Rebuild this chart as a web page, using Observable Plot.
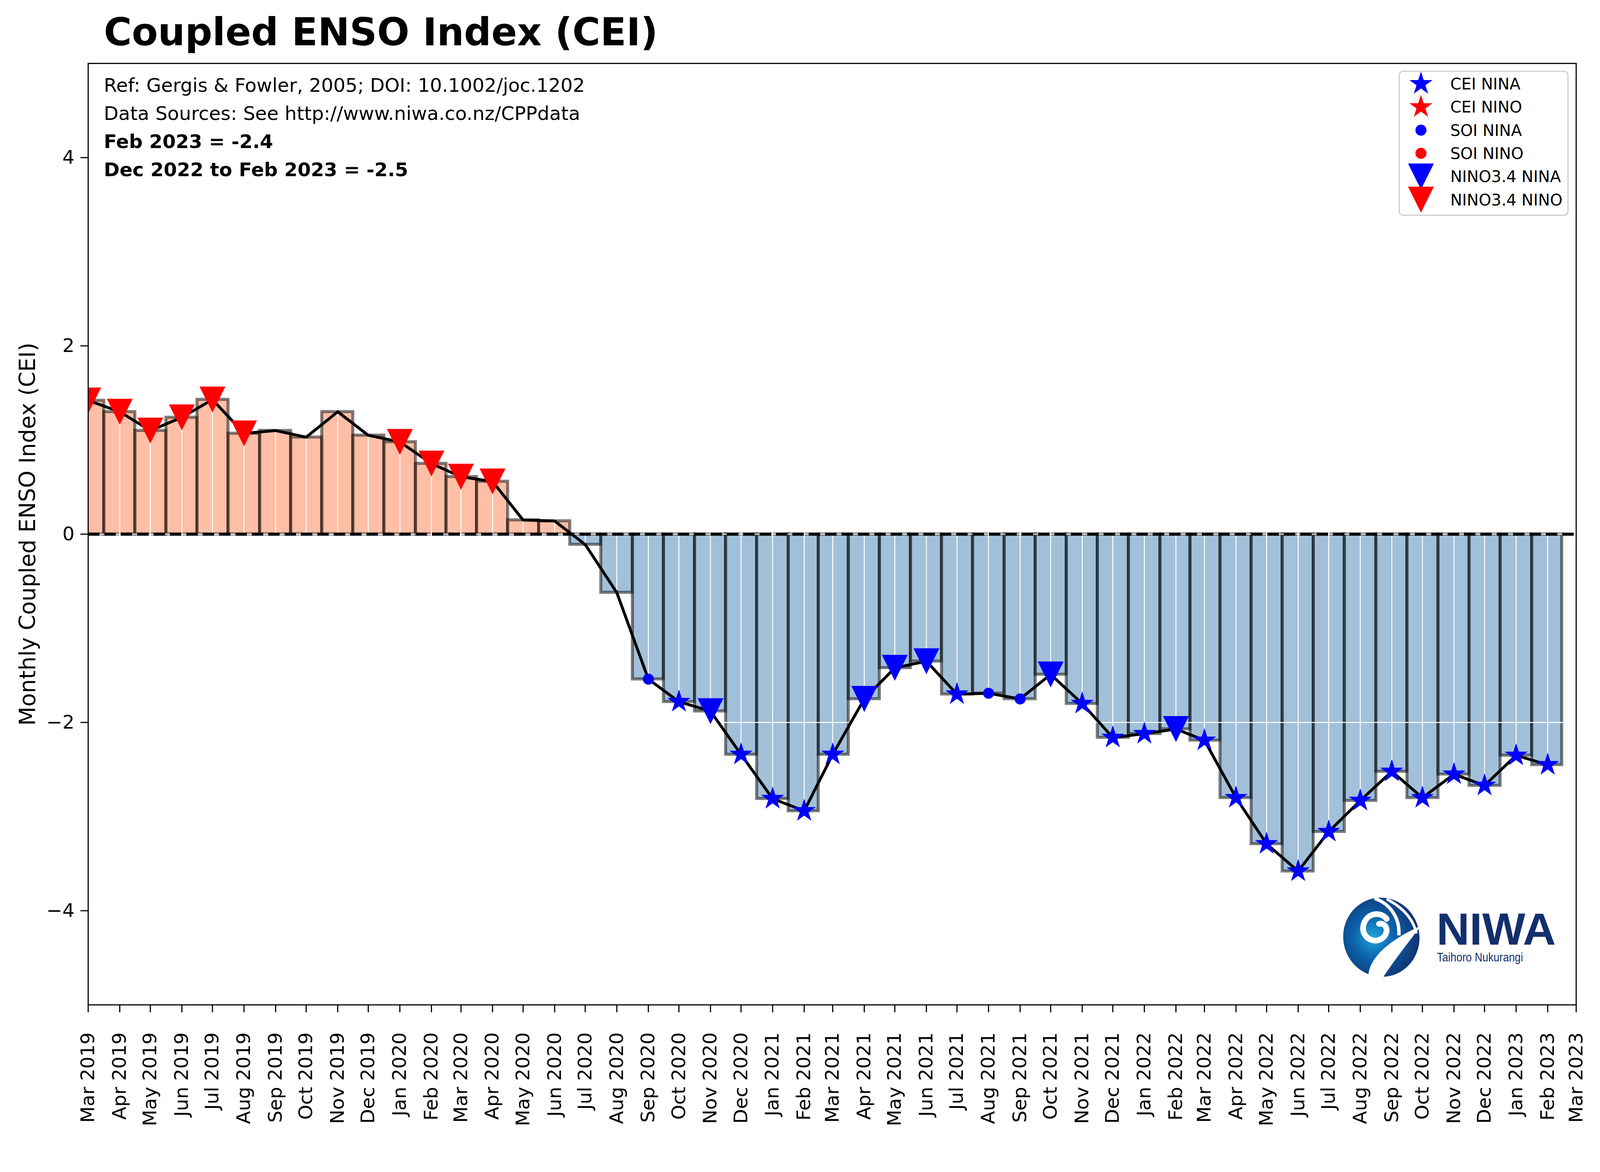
<!DOCTYPE html>
<html>
<head>
<meta charset="utf-8">
<script src="https://cdn.jsdelivr.net/npm/d3@7"></script>
<script src="https://cdn.jsdelivr.net/npm/@observablehq/plot@0.6"></script>
<style>html,body{margin:0;padding:0;background:#fff}#chart svg{display:block}</style>
</head>
<body>
<div id="chart"></div>
<script>
// ---------------- data ----------------
const months = [
  "Mar 2019","Apr 2019","May 2019","Jun 2019","Jul 2019","Aug 2019","Sep 2019","Oct 2019","Nov 2019","Dec 2019",
  "Jan 2020","Feb 2020","Mar 2020","Apr 2020","May 2020","Jun 2020","Jul 2020","Aug 2020","Sep 2020","Oct 2020","Nov 2020","Dec 2020",
  "Jan 2021","Feb 2021","Mar 2021","Apr 2021","May 2021","Jun 2021","Jul 2021","Aug 2021","Sep 2021","Oct 2021","Nov 2021","Dec 2021",
  "Jan 2022","Feb 2022","Mar 2022","Apr 2022","May 2022","Jun 2022","Jul 2022","Aug 2022","Sep 2022","Oct 2022","Nov 2022","Dec 2022",
  "Jan 2023","Feb 2023"
];
const cei = [
  1.42, 1.30, 1.10, 1.24, 1.43, 1.07, 1.10, 1.03, 1.30, 1.05,
  0.98, 0.75, 0.61, 0.56, 0.15, 0.14, -0.11, -0.62, -1.54, -1.78, -1.88, -2.34,
  -2.81, -2.94, -2.34, -1.75, -1.42, -1.35, -1.70, -1.69, -1.75, -1.49, -1.80, -2.16,
  -2.12, -2.07, -2.19, -2.80, -3.29, -3.58, -3.16, -2.83, -2.52, -2.80, -2.55, -2.67,
  -2.35, -2.45
];
// which index flagged the month: "nino34" (triangle), "cei" (star), "soi" (circle), "" none
const markerType = [
  "nino34","nino34","nino34","nino34","nino34","nino34","","","","",
  "nino34","nino34","nino34","nino34","","","","","soi","cei","nino34","cei",
  "cei","cei","cei","nino34","nino34","nino34","cei","soi","soi","nino34","cei","cei",
  "cei","nino34","cei","cei","cei","cei","cei","cei","cei","cei","cei","cei",
  "cei","cei"
];
const xTickLabels = [
  "Mar 2019","Apr 2019","May 2019","Jun 2019","Jul 2019","Aug 2019","Sep 2019","Oct 2019","Nov 2019","Dec 2019",
  "Jan 2020","Feb 2020","Mar 2020","Apr 2020","May 2020","Jun 2020","Jul 2020","Aug 2020","Sep 2020","Oct 2020","Nov 2020","Dec 2020",
  "Jan 2021","Feb 2021","Mar 2021","Apr 2021","May 2021","Jun 2021","Jul 2021","Aug 2021","Sep 2021","Oct 2021","Nov 2021","Dec 2021",
  "Jan 2022","Feb 2022","Mar 2022","Apr 2022","May 2022","Jun 2022","Jul 2022","Aug 2022","Sep 2022","Oct 2022","Nov 2022","Dec 2022",
  "Jan 2023","Feb 2023","Mar 2023"
];
const yTicks = [-4, -2, 0, 2, 4];
const yDomain = [-5, 5];
const titleText = "Coupled ENSO Index (CEI)";
const yLabelText = "Monthly Coupled ENSO Index (CEI)";
const noteLines = [
  "Ref: Gergis & Fowler, 2005; DOI: 10.1002/joc.1202",
  "Data Sources: See http://www.niwa.co.nz/CPPdata",
  "Feb 2023 = -2.4",
  "Dec 2022 to Feb 2023 = -2.5"
];
const legendLabels = ["CEI NINA", "CEI NINO", "SOI NINA", "SOI NINO", "NINO3.4 NINA", "NINO3.4 NINO"];
const legendColors = ["blue", "red", "blue", "red", "blue", "red"];
const legendKinds = ["cei", "cei", "soi", "soi", "nino34", "nino34"];

// ---------------- symbols ----------------
const starSymbol = {
  draw(ctx, size) {
    const R = Math.sqrt(size / Math.PI), r = R * 0.381966;
    for (let k = 0; k < 10; k++) {
      const a = -Math.PI / 2 + k * Math.PI / 5, rr = k % 2 ? r : R;
      const x = rr * Math.cos(a), y = rr * Math.sin(a);
      k ? ctx.lineTo(x, y) : ctx.moveTo(x, y);
    }
    ctx.closePath();
  }
};
const triDownSymbol = {
  draw(ctx, size) {
    const h = Math.sqrt(size / Math.PI);
    ctx.moveTo(-h, -h); ctx.lineTo(h, -h); ctx.lineTo(0, h); ctx.closePath();
  }
};
const kindStyle = {
  cei: {symbol: starSymbol, r: 32},
  soi: {symbol: "circle", r: 14.5},
  nino34: {symbol: triDownSymbol, r: 34}
};

// ---------------- derived rows ----------------
const parse = d3.utcParse("%b %Y");
const tickDates = xTickLabels.map(parse);
const rows = months.map((m, i) => {
  const t = +tickDates[i];
  const prev = i > 0 ? +tickDates[i - 1] : t - (+tickDates[1] - t);
  const next = +tickDates[i + 1];
  return {date: parse(m), value: cei[i], kind: markerType[i],
          x1: new Date((prev + t) / 2), x2: new Date((t + next) / 2)};
});
const colorOf = d => d.value < 0 ? "blue" : "red";

const dotMarks = Object.entries(kindStyle).map(([kind, st]) =>
  Plot.dot(rows.filter(d => d.kind === kind), {
    x: "date", y: "value", symbol: st.symbol, r: st.r,
    fill: colorOf, stroke: "none", clip: true
  })
);

const FL = 231, FT = 166; // frame left / top used for text offsets
const chart = Plot.plot({
  width: 4200,
  height: 3000,
  marginLeft: 231,
  marginRight: 63,
  marginTop: 166,
  marginBottom: 363,
  style: {fontFamily: "DejaVu Sans", background: "white", color: "black"},
  x: {type: "utc", domain: [tickDates[0], tickDates[tickDates.length - 1]], label: null},
  y: {domain: yDomain, label: null},
  marks: [
    Plot.rect(rows, {
      x1: "x1", x2: "x2", y1: () => 0, y2: "value",
      fill: d => d.value >= 0 ? "coral" : "steelblue", fillOpacity: 0.5,
      stroke: "black", strokeOpacity: 0.5, strokeWidth: 8, clip: true
    }),
    Plot.gridX(tickDates, {stroke: "white", strokeOpacity: 1, strokeWidth: 2.5}),
    Plot.gridY(yTicks, {stroke: "white", strokeOpacity: 1, strokeWidth: 2.5}),
    Plot.ruleY([0], {stroke: "black", strokeWidth: 8, strokeDasharray: "30,13"}),
    Plot.line(rows, {x: "date", y: "value", stroke: "black", strokeWidth: 7.5, clip: true}),
    ...dotMarks,
    Plot.frame({stroke: "black", strokeWidth: 3}),
    Plot.axisX({ticks: tickDates, tickFormat: d3.utcFormat("%b %Y"), tickSize: 20, tickRotate: -90,
                tickPadding: 52, fontSize: 50, strokeWidth: 3, label: null}),
    Plot.axisY({ticks: yTicks, tickFormat: d3.format("d"), tickSize: 20, tickPadding: 16,
                fontSize: 50, strokeWidth: 3, label: null}),
    Plot.text([yLabelText], {frameAnchor: "left", dx: 73 - FL, rotate: -90, fontSize: 58,
                             textAnchor: "middle", lineAnchor: "middle"}),
    Plot.text([titleText], {frameAnchor: "top-left", dx: 272 - FL, dy: 118 - FT, fontSize: 100,
                            fontWeight: "bold", textAnchor: "start", lineAnchor: "bottom"}),
    Plot.text([noteLines[0]], {frameAnchor: "top-left", dx: 272 - FL, dy: 240 - FT, fontSize: 50,
                               textAnchor: "start", lineAnchor: "bottom"}),
    Plot.text([noteLines[1]], {frameAnchor: "top-left", dx: 272 - FL, dy: 314 - FT, fontSize: 50,
                               textAnchor: "start", lineAnchor: "bottom"}),
    Plot.text([noteLines[2]], {frameAnchor: "top-left", dx: 272 - FL, dy: 388 - FT, fontSize: 50,
                               fontWeight: "bold", textAnchor: "start", lineAnchor: "bottom"}),
    Plot.text([noteLines[3]], {frameAnchor: "top-left", dx: 272 - FL, dy: 462 - FT, fontSize: 50,
                               fontWeight: "bold", textAnchor: "start", lineAnchor: "bottom"})
  ]
});
document.getElementById("chart").appendChild(chart);

// ---------------- legend ----------------
const svg = d3.select(chart);
const lg = svg.append("g").attr("font-family", "DejaVu Sans").attr("text-anchor", "start");
lg.append("rect").attr("x", 3673).attr("y", 187).attr("width", 443).attr("height", 378)
  .attr("rx", 10).attr("fill", "white").attr("fill-opacity", 0.8)
  .attr("stroke", "#cccccc").attr("stroke-width", 3);
legendLabels.forEach((lab, i) => {
  const cy = 220 + i * 60.8;
  const st = kindStyle[legendKinds[i]];
  const type = st.symbol === "circle" ? d3.symbolCircle : st.symbol;
  lg.append("path").attr("transform", `translate(3730,${cy})`)
    .attr("d", d3.symbol(type, Math.PI * st.r * st.r)()).attr("fill", legendColors[i]);
  lg.append("text").attr("x", 3807).attr("y", cy + 15).attr("font-size", 41.7)
    .attr("text-anchor", "start").attr("fill", "black").text(lab);
});

// ---------------- NIWA logo ----------------
const defs = svg.append("defs");
const grad = defs.append("radialGradient").attr("id", "niwaGrad")
  .attr("cx", "40%").attr("cy", "48%").attr("r", "62%");
grad.append("stop").attr("offset", "0%").attr("stop-color", "#21a3dd");
grad.append("stop").attr("offset", "45%").attr("stop-color", "#0b61a8");
grad.append("stop").attr("offset", "100%").attr("stop-color", "#112f6d");
const logo = svg.append("g").attr("text-anchor", "start");
logo.append("ellipse").attr("cx", 3626).attr("cy", 2460).attr("rx", 100).attr("ry", 104)
  .attr("transform", "rotate(-12,3626,2460)").attr("fill", "url(#niwaGrad)");
// white swirl
logo.append("path").attr("fill", "none").attr("stroke", "white").attr("stroke-width", 15)
  .attr("stroke-linecap", "round")
  .attr("d", "M3640,2412 C3625,2392 3590,2395 3580,2425 C3570,2455 3600,2478 3625,2465 C3650,2450 3640,2420 3620,2425");
// swoosh
logo.append("path").attr("fill", "white")
  .attr("d", "M3592,2566 C3590,2520 3640,2470 3730,2430 C3700,2470 3660,2520 3630,2566 Z");
// arcs on top
logo.append("path").attr("fill", "none").attr("stroke", "white").attr("stroke-width", 9)
  .attr("d", "M3608,2358 C3650,2372 3675,2410 3672,2455");
logo.append("path").attr("fill", "none").attr("stroke", "white").attr("stroke-width", 7)
  .attr("d", "M3640,2360 C3690,2385 3712,2420 3718,2450");
logo.append("text").attr("x", 3771).attr("y", 2479).attr("font-family", "Liberation Sans")
  .attr("font-weight", "bold").attr("font-size", 118).attr("fill", "#13306e").attr("text-anchor", "start")
  .attr("textLength", 313).attr("lengthAdjust", "spacingAndGlyphs").text("NIWA");
logo.append("text").attr("x", 3772).attr("y", 2524).attr("font-family", "Liberation Sans")
  .attr("font-size", 32).attr("fill", "#13306e").attr("text-anchor", "start")
  .attr("textLength", 226).attr("lengthAdjust", "spacingAndGlyphs").text("Taihoro Nukurangi");
</script>
</body>
</html>
